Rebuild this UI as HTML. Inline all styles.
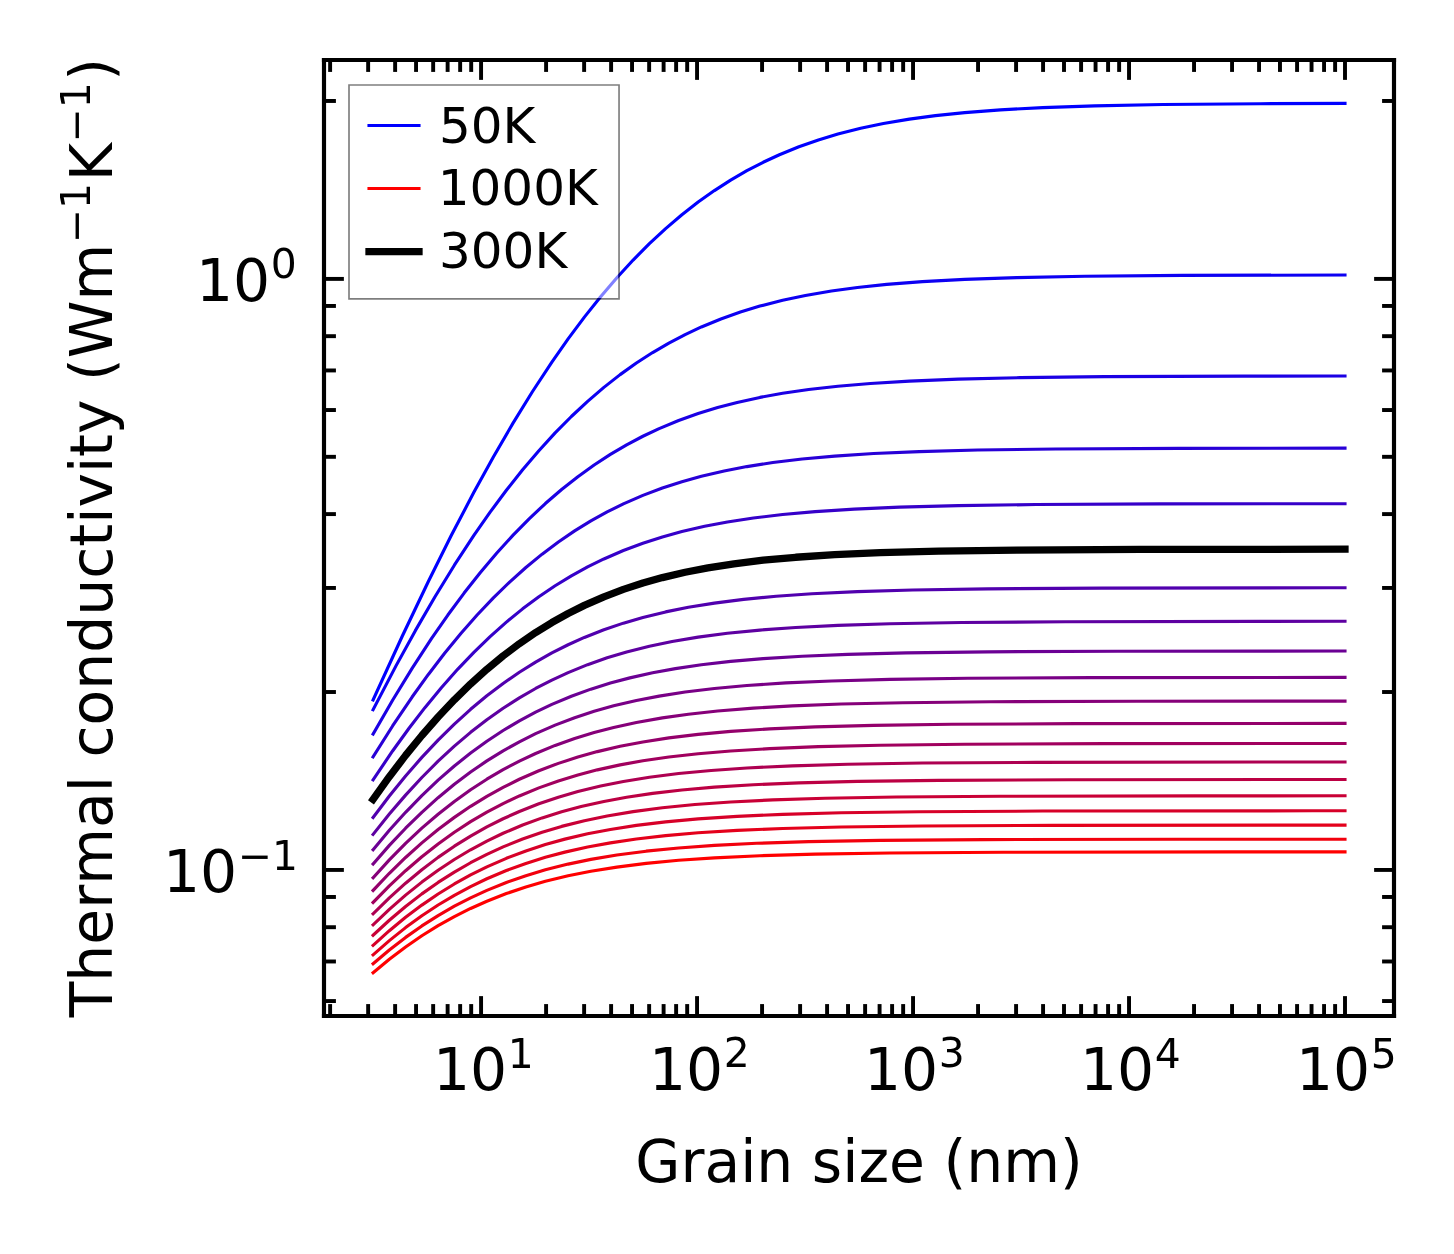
<!DOCTYPE html>
<html><head><meta charset="utf-8"><title>Thermal conductivity vs grain size</title>
<style>
html,body{margin:0;padding:0;background:#fff;}
body{width:1454px;height:1254px;overflow:hidden;}
svg{display:block;will-change:transform;}
svg text{font-family:"DejaVu Sans","Liberation Sans",sans-serif;}
</style></head><body>
<svg width="1454" height="1254" viewBox="0 0 348.96 300.96" version="1.1">
<defs>
<style type="text/css">*{stroke-linejoin: round; stroke-linecap: butt}</style>
</defs>
<g id="figure_1">
<g id="patch_1">
<path d="M 0 300.96 L 348.96 300.96 L 348.96 0 L 0 0 z
" style="fill: #ffffff"/>
</g>
<g id="axes_1">
<g id="patch_2">
<path d="M 77.76 243.84 L 334.56 243.84 L 334.56 14.4 L 77.76 14.4 z
" style="fill: #ffffff"/>
</g>
<g id="matplotlib.axis_1">
<g id="xtick_1">
<g id="line2d_1">
<defs>
<path id="maf25441c3c" d="M 0 0 L 0 -4.77 " style="stroke: #000000; stroke-width: 0.94"/>
</defs>
<g>
<use href="#maf25441c3c" x="115.459" y="243.84" style="stroke: #000000; stroke-width: 0.94"/>
</g>
</g>
<g id="line2d_2">
<defs>
<path id="m0d5572765b" d="M 0 0 L 0 4.77 " style="stroke: #000000; stroke-width: 0.94"/>
</defs>
<g>
<use href="#m0d5572765b" x="115.459" y="14.4" style="stroke: #000000; stroke-width: 0.94"/>
</g>
</g>
<g id="text_1" transform="translate(0.780 0.600)">
<g transform="translate(103.139 261.478)">
<text><tspan x="0 8.907" y="-0.498" font-size="14">10</tspan><tspan x="17.948" y="-5.858" font-size="9.8">1</tspan></text>
</g>
</g>
</g>
<g id="xtick_2">
<g id="line2d_3">
<g>
<use href="#maf25441c3c" x="167.294" y="243.84" style="stroke: #000000; stroke-width: 0.94"/>
</g>
</g>
<g id="line2d_4">
<g>
<use href="#m0d5572765b" x="167.294" y="14.4" style="stroke: #000000; stroke-width: 0.94"/>
</g>
</g>
<g id="text_2" transform="translate(0.780 0.420)">
<g transform="translate(154.974 261.478)">
<text><tspan x="0 8.907" y="-0.367" font-size="14">10</tspan><tspan x="17.948" y="-5.727" font-size="9.8">2</tspan></text>
</g>
</g>
</g>
<g id="xtick_3">
<g id="line2d_5">
<g>
<use href="#maf25441c3c" x="219.13" y="243.84" style="stroke: #000000; stroke-width: 0.94"/>
</g>
</g>
<g id="line2d_6">
<g>
<use href="#m0d5572765b" x="219.13" y="14.4" style="stroke: #000000; stroke-width: 0.94"/>
</g>
</g>
<g id="text_3" transform="translate(0.540 0.420)">
<g transform="translate(206.81 261.478)">
<text><tspan x="0 8.907" y="-0.367" font-size="14">10</tspan><tspan x="17.948" y="-5.727" font-size="9.8">3</tspan></text>
</g>
</g>
</g>
<g id="xtick_4">
<g id="line2d_7">
<g>
<use href="#maf25441c3c" x="270.965" y="243.84" style="stroke: #000000; stroke-width: 0.94"/>
</g>
</g>
<g id="line2d_8">
<g>
<use href="#m0d5572765b" x="270.965" y="14.4" style="stroke: #000000; stroke-width: 0.94"/>
</g>
</g>
<g id="text_4" transform="translate(0.540 0.600)">
<g transform="translate(258.645 261.478)">
<text><tspan x="0 8.907" y="-0.498" font-size="14">10</tspan><tspan x="17.948" y="-5.858" font-size="9.8">4</tspan></text>
</g>
</g>
</g>
<g id="xtick_5">
<g id="line2d_9">
<g>
<use href="#maf25441c3c" x="322.8" y="243.84" style="stroke: #000000; stroke-width: 0.94"/>
</g>
</g>
<g id="line2d_10">
<g>
<use href="#m0d5572765b" x="322.8" y="14.4" style="stroke: #000000; stroke-width: 0.94"/>
</g>
</g>
<g id="text_5" transform="translate(0.540 0.600)">
<g transform="translate(310.48 261.478)">
<text><tspan x="0 8.907" y="-0.498" font-size="14">10</tspan><tspan x="17.948" y="-5.858" font-size="9.8">5</tspan></text>
</g>
</g>
</g>
<g id="xtick_6">
<g id="line2d_11">
<defs>
<path id="m3b67e1d677" d="M 0 0 L 0 -2.86 " style="stroke: #000000; stroke-width: 0.94"/>
</defs>
<g>
<use href="#m3b67e1d677" x="79.228" y="243.84" style="stroke: #000000; stroke-width: 0.94"/>
</g>
</g>
<g id="line2d_12">
<defs>
<path id="m9bb82f5872" d="M 0 0 L 0 2.86 " style="stroke: #000000; stroke-width: 0.94"/>
</defs>
<g>
<use href="#m9bb82f5872" x="79.228" y="14.4" style="stroke: #000000; stroke-width: 0.94"/>
</g>
</g>
</g>
<g id="xtick_7">
<g id="line2d_13">
<g>
<use href="#m3b67e1d677" x="88.356" y="243.84" style="stroke: #000000; stroke-width: 0.94"/>
</g>
</g>
<g id="line2d_14">
<g>
<use href="#m9bb82f5872" x="88.356" y="14.4" style="stroke: #000000; stroke-width: 0.94"/>
</g>
</g>
</g>
<g id="xtick_8">
<g id="line2d_15">
<g>
<use href="#m3b67e1d677" x="94.832" y="243.84" style="stroke: #000000; stroke-width: 0.94"/>
</g>
</g>
<g id="line2d_16">
<g>
<use href="#m9bb82f5872" x="94.832" y="14.4" style="stroke: #000000; stroke-width: 0.94"/>
</g>
</g>
</g>
<g id="xtick_9">
<g id="line2d_17">
<g>
<use href="#m3b67e1d677" x="99.855" y="243.84" style="stroke: #000000; stroke-width: 0.94"/>
</g>
</g>
<g id="line2d_18">
<g>
<use href="#m9bb82f5872" x="99.855" y="14.4" style="stroke: #000000; stroke-width: 0.94"/>
</g>
</g>
</g>
<g id="xtick_10">
<g id="line2d_19">
<g>
<use href="#m3b67e1d677" x="103.96" y="243.84" style="stroke: #000000; stroke-width: 0.94"/>
</g>
</g>
<g id="line2d_20">
<g>
<use href="#m9bb82f5872" x="103.96" y="14.4" style="stroke: #000000; stroke-width: 0.94"/>
</g>
</g>
</g>
<g id="xtick_11">
<g id="line2d_21">
<g>
<use href="#m3b67e1d677" x="107.43" y="243.84" style="stroke: #000000; stroke-width: 0.94"/>
</g>
</g>
<g id="line2d_22">
<g>
<use href="#m9bb82f5872" x="107.43" y="14.4" style="stroke: #000000; stroke-width: 0.94"/>
</g>
</g>
</g>
<g id="xtick_12">
<g id="line2d_23">
<g>
<use href="#m3b67e1d677" x="110.436" y="243.84" style="stroke: #000000; stroke-width: 0.94"/>
</g>
</g>
<g id="line2d_24">
<g>
<use href="#m9bb82f5872" x="110.436" y="14.4" style="stroke: #000000; stroke-width: 0.94"/>
</g>
</g>
</g>
<g id="xtick_13">
<g id="line2d_25">
<g>
<use href="#m3b67e1d677" x="113.087" y="243.84" style="stroke: #000000; stroke-width: 0.94"/>
</g>
</g>
<g id="line2d_26">
<g>
<use href="#m9bb82f5872" x="113.087" y="14.4" style="stroke: #000000; stroke-width: 0.94"/>
</g>
</g>
</g>
<g id="xtick_14">
<g id="line2d_27">
<g>
<use href="#m3b67e1d677" x="131.063" y="243.84" style="stroke: #000000; stroke-width: 0.94"/>
</g>
</g>
<g id="line2d_28">
<g>
<use href="#m9bb82f5872" x="131.063" y="14.4" style="stroke: #000000; stroke-width: 0.94"/>
</g>
</g>
</g>
<g id="xtick_15">
<g id="line2d_29">
<g>
<use href="#m3b67e1d677" x="140.191" y="243.84" style="stroke: #000000; stroke-width: 0.94"/>
</g>
</g>
<g id="line2d_30">
<g>
<use href="#m9bb82f5872" x="140.191" y="14.4" style="stroke: #000000; stroke-width: 0.94"/>
</g>
</g>
</g>
<g id="xtick_16">
<g id="line2d_31">
<g>
<use href="#m3b67e1d677" x="146.667" y="243.84" style="stroke: #000000; stroke-width: 0.94"/>
</g>
</g>
<g id="line2d_32">
<g>
<use href="#m9bb82f5872" x="146.667" y="14.4" style="stroke: #000000; stroke-width: 0.94"/>
</g>
</g>
</g>
<g id="xtick_17">
<g id="line2d_33">
<g>
<use href="#m3b67e1d677" x="151.69" y="243.84" style="stroke: #000000; stroke-width: 0.94"/>
</g>
</g>
<g id="line2d_34">
<g>
<use href="#m9bb82f5872" x="151.69" y="14.4" style="stroke: #000000; stroke-width: 0.94"/>
</g>
</g>
</g>
<g id="xtick_18">
<g id="line2d_35">
<g>
<use href="#m3b67e1d677" x="155.795" y="243.84" style="stroke: #000000; stroke-width: 0.94"/>
</g>
</g>
<g id="line2d_36">
<g>
<use href="#m9bb82f5872" x="155.795" y="14.4" style="stroke: #000000; stroke-width: 0.94"/>
</g>
</g>
</g>
<g id="xtick_19">
<g id="line2d_37">
<g>
<use href="#m3b67e1d677" x="159.265" y="243.84" style="stroke: #000000; stroke-width: 0.94"/>
</g>
</g>
<g id="line2d_38">
<g>
<use href="#m9bb82f5872" x="159.265" y="14.4" style="stroke: #000000; stroke-width: 0.94"/>
</g>
</g>
</g>
<g id="xtick_20">
<g id="line2d_39">
<g>
<use href="#m3b67e1d677" x="162.271" y="243.84" style="stroke: #000000; stroke-width: 0.94"/>
</g>
</g>
<g id="line2d_40">
<g>
<use href="#m9bb82f5872" x="162.271" y="14.4" style="stroke: #000000; stroke-width: 0.94"/>
</g>
</g>
</g>
<g id="xtick_21">
<g id="line2d_41">
<g>
<use href="#m3b67e1d677" x="164.923" y="243.84" style="stroke: #000000; stroke-width: 0.94"/>
</g>
</g>
<g id="line2d_42">
<g>
<use href="#m9bb82f5872" x="164.923" y="14.4" style="stroke: #000000; stroke-width: 0.94"/>
</g>
</g>
</g>
<g id="xtick_22">
<g id="line2d_43">
<g>
<use href="#m3b67e1d677" x="182.898" y="243.84" style="stroke: #000000; stroke-width: 0.94"/>
</g>
</g>
<g id="line2d_44">
<g>
<use href="#m9bb82f5872" x="182.898" y="14.4" style="stroke: #000000; stroke-width: 0.94"/>
</g>
</g>
</g>
<g id="xtick_23">
<g id="line2d_45">
<g>
<use href="#m3b67e1d677" x="192.026" y="243.84" style="stroke: #000000; stroke-width: 0.94"/>
</g>
</g>
<g id="line2d_46">
<g>
<use href="#m9bb82f5872" x="192.026" y="14.4" style="stroke: #000000; stroke-width: 0.94"/>
</g>
</g>
</g>
<g id="xtick_24">
<g id="line2d_47">
<g>
<use href="#m3b67e1d677" x="198.502" y="243.84" style="stroke: #000000; stroke-width: 0.94"/>
</g>
</g>
<g id="line2d_48">
<g>
<use href="#m9bb82f5872" x="198.502" y="14.4" style="stroke: #000000; stroke-width: 0.94"/>
</g>
</g>
</g>
<g id="xtick_25">
<g id="line2d_49">
<g>
<use href="#m3b67e1d677" x="203.526" y="243.84" style="stroke: #000000; stroke-width: 0.94"/>
</g>
</g>
<g id="line2d_50">
<g>
<use href="#m9bb82f5872" x="203.526" y="14.4" style="stroke: #000000; stroke-width: 0.94"/>
</g>
</g>
</g>
<g id="xtick_26">
<g id="line2d_51">
<g>
<use href="#m3b67e1d677" x="207.63" y="243.84" style="stroke: #000000; stroke-width: 0.94"/>
</g>
</g>
<g id="line2d_52">
<g>
<use href="#m9bb82f5872" x="207.63" y="14.4" style="stroke: #000000; stroke-width: 0.94"/>
</g>
</g>
</g>
<g id="xtick_27">
<g id="line2d_53">
<g>
<use href="#m3b67e1d677" x="211.1" y="243.84" style="stroke: #000000; stroke-width: 0.94"/>
</g>
</g>
<g id="line2d_54">
<g>
<use href="#m9bb82f5872" x="211.1" y="14.4" style="stroke: #000000; stroke-width: 0.94"/>
</g>
</g>
</g>
<g id="xtick_28">
<g id="line2d_55">
<g>
<use href="#m3b67e1d677" x="214.106" y="243.84" style="stroke: #000000; stroke-width: 0.94"/>
</g>
</g>
<g id="line2d_56">
<g>
<use href="#m9bb82f5872" x="214.106" y="14.4" style="stroke: #000000; stroke-width: 0.94"/>
</g>
</g>
</g>
<g id="xtick_29">
<g id="line2d_57">
<g>
<use href="#m3b67e1d677" x="216.758" y="243.84" style="stroke: #000000; stroke-width: 0.94"/>
</g>
</g>
<g id="line2d_58">
<g>
<use href="#m9bb82f5872" x="216.758" y="14.4" style="stroke: #000000; stroke-width: 0.94"/>
</g>
</g>
</g>
<g id="xtick_30">
<g id="line2d_59">
<g>
<use href="#m3b67e1d677" x="234.734" y="243.84" style="stroke: #000000; stroke-width: 0.94"/>
</g>
</g>
<g id="line2d_60">
<g>
<use href="#m9bb82f5872" x="234.734" y="14.4" style="stroke: #000000; stroke-width: 0.94"/>
</g>
</g>
</g>
<g id="xtick_31">
<g id="line2d_61">
<g>
<use href="#m3b67e1d677" x="243.861" y="243.84" style="stroke: #000000; stroke-width: 0.94"/>
</g>
</g>
<g id="line2d_62">
<g>
<use href="#m9bb82f5872" x="243.861" y="14.4" style="stroke: #000000; stroke-width: 0.94"/>
</g>
</g>
</g>
<g id="xtick_32">
<g id="line2d_63">
<g>
<use href="#m3b67e1d677" x="250.338" y="243.84" style="stroke: #000000; stroke-width: 0.94"/>
</g>
</g>
<g id="line2d_64">
<g>
<use href="#m9bb82f5872" x="250.338" y="14.4" style="stroke: #000000; stroke-width: 0.94"/>
</g>
</g>
</g>
<g id="xtick_33">
<g id="line2d_65">
<g>
<use href="#m3b67e1d677" x="255.361" y="243.84" style="stroke: #000000; stroke-width: 0.94"/>
</g>
</g>
<g id="line2d_66">
<g>
<use href="#m9bb82f5872" x="255.361" y="14.4" style="stroke: #000000; stroke-width: 0.94"/>
</g>
</g>
</g>
<g id="xtick_34">
<g id="line2d_67">
<g>
<use href="#m3b67e1d677" x="259.465" y="243.84" style="stroke: #000000; stroke-width: 0.94"/>
</g>
</g>
<g id="line2d_68">
<g>
<use href="#m9bb82f5872" x="259.465" y="14.4" style="stroke: #000000; stroke-width: 0.94"/>
</g>
</g>
</g>
<g id="xtick_35">
<g id="line2d_69">
<g>
<use href="#m3b67e1d677" x="262.935" y="243.84" style="stroke: #000000; stroke-width: 0.94"/>
</g>
</g>
<g id="line2d_70">
<g>
<use href="#m9bb82f5872" x="262.935" y="14.4" style="stroke: #000000; stroke-width: 0.94"/>
</g>
</g>
</g>
<g id="xtick_36">
<g id="line2d_71">
<g>
<use href="#m3b67e1d677" x="265.941" y="243.84" style="stroke: #000000; stroke-width: 0.94"/>
</g>
</g>
<g id="line2d_72">
<g>
<use href="#m9bb82f5872" x="265.941" y="14.4" style="stroke: #000000; stroke-width: 0.94"/>
</g>
</g>
</g>
<g id="xtick_37">
<g id="line2d_73">
<g>
<use href="#m3b67e1d677" x="268.593" y="243.84" style="stroke: #000000; stroke-width: 0.94"/>
</g>
</g>
<g id="line2d_74">
<g>
<use href="#m9bb82f5872" x="268.593" y="14.4" style="stroke: #000000; stroke-width: 0.94"/>
</g>
</g>
</g>
<g id="xtick_38">
<g id="line2d_75">
<g>
<use href="#m3b67e1d677" x="286.569" y="243.84" style="stroke: #000000; stroke-width: 0.94"/>
</g>
</g>
<g id="line2d_76">
<g>
<use href="#m9bb82f5872" x="286.569" y="14.4" style="stroke: #000000; stroke-width: 0.94"/>
</g>
</g>
</g>
<g id="xtick_39">
<g id="line2d_77">
<g>
<use href="#m3b67e1d677" x="295.696" y="243.84" style="stroke: #000000; stroke-width: 0.94"/>
</g>
</g>
<g id="line2d_78">
<g>
<use href="#m9bb82f5872" x="295.696" y="14.4" style="stroke: #000000; stroke-width: 0.94"/>
</g>
</g>
</g>
<g id="xtick_40">
<g id="line2d_79">
<g>
<use href="#m3b67e1d677" x="302.173" y="243.84" style="stroke: #000000; stroke-width: 0.94"/>
</g>
</g>
<g id="line2d_80">
<g>
<use href="#m9bb82f5872" x="302.173" y="14.4" style="stroke: #000000; stroke-width: 0.94"/>
</g>
</g>
</g>
<g id="xtick_41">
<g id="line2d_81">
<g>
<use href="#m3b67e1d677" x="307.196" y="243.84" style="stroke: #000000; stroke-width: 0.94"/>
</g>
</g>
<g id="line2d_82">
<g>
<use href="#m9bb82f5872" x="307.196" y="14.4" style="stroke: #000000; stroke-width: 0.94"/>
</g>
</g>
</g>
<g id="xtick_42">
<g id="line2d_83">
<g>
<use href="#m3b67e1d677" x="311.3" y="243.84" style="stroke: #000000; stroke-width: 0.94"/>
</g>
</g>
<g id="line2d_84">
<g>
<use href="#m9bb82f5872" x="311.3" y="14.4" style="stroke: #000000; stroke-width: 0.94"/>
</g>
</g>
</g>
<g id="xtick_43">
<g id="line2d_85">
<g>
<use href="#m3b67e1d677" x="314.771" y="243.84" style="stroke: #000000; stroke-width: 0.94"/>
</g>
</g>
<g id="line2d_86">
<g>
<use href="#m9bb82f5872" x="314.771" y="14.4" style="stroke: #000000; stroke-width: 0.94"/>
</g>
</g>
</g>
<g id="xtick_44">
<g id="line2d_87">
<g>
<use href="#m3b67e1d677" x="317.777" y="243.84" style="stroke: #000000; stroke-width: 0.94"/>
</g>
</g>
<g id="line2d_88">
<g>
<use href="#m9bb82f5872" x="317.777" y="14.4" style="stroke: #000000; stroke-width: 0.94"/>
</g>
</g>
</g>
<g id="xtick_45">
<g id="line2d_89">
<g>
<use href="#m3b67e1d677" x="320.428" y="243.84" style="stroke: #000000; stroke-width: 0.94"/>
</g>
</g>
<g id="line2d_90">
<g>
<use href="#m9bb82f5872" x="320.428" y="14.4" style="stroke: #000000; stroke-width: 0.94"/>
</g>
</g>
</g>
<g id="text_6" transform="translate(0.000 0.540)">
<text style="font-size: 14px; font-family: 'DejaVu Sans', 'Liberation Sans', sans-serif; text-anchor: middle" x="206.16" y="283.027" transform="rotate(-0 206.16 283.027)">Grain size (nm)</text>
</g>
</g>
<g id="matplotlib.axis_2">
<g id="ytick_1">
<g id="line2d_91">
<defs>
<path id="m7ae708f7cb" d="M 0 0 L 4.77 0 " style="stroke: #000000; stroke-width: 0.94"/>
</defs>
<g>
<use href="#m7ae708f7cb" x="77.76" y="208.783" style="stroke: #000000; stroke-width: 0.94"/>
</g>
</g>
<g id="line2d_92">
<defs>
<path id="ma7361519e3" d="M 0 0 L -4.77 0 " style="stroke: #000000; stroke-width: 0.94"/>
</defs>
<g>
<use href="#ma7361519e3" x="334.56" y="208.783" style="stroke: #000000; stroke-width: 0.94"/>
</g>
</g>
<g id="text_7" transform="translate(1.260 0.480)">
<g transform="translate(37.86 214.102)">
<text><tspan x="0 8.907" y="-0.498" font-size="14">10</tspan><tspan x="17.948 26.16" y="-5.858" font-size="9.8">−1</tspan></text>
</g>
</g>
</g>
<g id="ytick_2">
<g id="line2d_93">
<g>
<use href="#m7ae708f7cb" x="77.76" y="66.936" style="stroke: #000000; stroke-width: 0.94"/>
</g>
</g>
<g id="line2d_94">
<g>
<use href="#ma7361519e3" x="334.56" y="66.936" style="stroke: #000000; stroke-width: 0.94"/>
</g>
</g>
<g id="text_8" transform="translate(0.900 0.240)">
<g transform="translate(46.12 72.255)">
<text><tspan x="0 8.907" y="-0.367" font-size="14">10</tspan><tspan x="17.948" y="-5.727" font-size="9.8">0</tspan></text>
</g>
</g>
</g>
<g id="ytick_3">
<g id="line2d_95">
<defs>
<path id="mc48ec808b9" d="M 0 0 L 2.86 0 " style="stroke: #000000; stroke-width: 0.94"/>
</defs>
<g>
<use href="#mc48ec808b9" x="77.76" y="240.252" style="stroke: #000000; stroke-width: 0.94"/>
</g>
</g>
<g id="line2d_96">
<defs>
<path id="ma619b0900b" d="M 0 0 L -2.86 0 " style="stroke: #000000; stroke-width: 0.94"/>
</defs>
<g>
<use href="#ma619b0900b" x="334.56" y="240.252" style="stroke: #000000; stroke-width: 0.94"/>
</g>
</g>
</g>
<g id="ytick_4">
<g id="line2d_97">
<g>
<use href="#mc48ec808b9" x="77.76" y="230.756" style="stroke: #000000; stroke-width: 0.94"/>
</g>
</g>
<g id="line2d_98">
<g>
<use href="#ma619b0900b" x="334.56" y="230.756" style="stroke: #000000; stroke-width: 0.94"/>
</g>
</g>
</g>
<g id="ytick_5">
<g id="line2d_99">
<g>
<use href="#mc48ec808b9" x="77.76" y="222.53" style="stroke: #000000; stroke-width: 0.94"/>
</g>
</g>
<g id="line2d_100">
<g>
<use href="#ma619b0900b" x="334.56" y="222.53" style="stroke: #000000; stroke-width: 0.94"/>
</g>
</g>
</g>
<g id="ytick_6">
<g id="line2d_101">
<g>
<use href="#mc48ec808b9" x="77.76" y="215.274" style="stroke: #000000; stroke-width: 0.94"/>
</g>
</g>
<g id="line2d_102">
<g>
<use href="#ma619b0900b" x="334.56" y="215.274" style="stroke: #000000; stroke-width: 0.94"/>
</g>
</g>
</g>
<g id="ytick_7">
<g id="line2d_103">
<g>
<use href="#mc48ec808b9" x="77.76" y="166.083" style="stroke: #000000; stroke-width: 0.94"/>
</g>
</g>
<g id="line2d_104">
<g>
<use href="#ma619b0900b" x="334.56" y="166.083" style="stroke: #000000; stroke-width: 0.94"/>
</g>
</g>
</g>
<g id="ytick_8">
<g id="line2d_105">
<g>
<use href="#mc48ec808b9" x="77.76" y="141.105" style="stroke: #000000; stroke-width: 0.94"/>
</g>
</g>
<g id="line2d_106">
<g>
<use href="#ma619b0900b" x="334.56" y="141.105" style="stroke: #000000; stroke-width: 0.94"/>
</g>
</g>
</g>
<g id="ytick_9">
<g id="line2d_107">
<g>
<use href="#mc48ec808b9" x="77.76" y="123.383" style="stroke: #000000; stroke-width: 0.94"/>
</g>
</g>
<g id="line2d_108">
<g>
<use href="#ma619b0900b" x="334.56" y="123.383" style="stroke: #000000; stroke-width: 0.94"/>
</g>
</g>
</g>
<g id="ytick_10">
<g id="line2d_109">
<g>
<use href="#mc48ec808b9" x="77.76" y="109.636" style="stroke: #000000; stroke-width: 0.94"/>
</g>
</g>
<g id="line2d_110">
<g>
<use href="#ma619b0900b" x="334.56" y="109.636" style="stroke: #000000; stroke-width: 0.94"/>
</g>
</g>
</g>
<g id="ytick_11">
<g id="line2d_111">
<g>
<use href="#mc48ec808b9" x="77.76" y="98.405" style="stroke: #000000; stroke-width: 0.94"/>
</g>
</g>
<g id="line2d_112">
<g>
<use href="#ma619b0900b" x="334.56" y="98.405" style="stroke: #000000; stroke-width: 0.94"/>
</g>
</g>
</g>
<g id="ytick_12">
<g id="line2d_113">
<g>
<use href="#mc48ec808b9" x="77.76" y="88.908" style="stroke: #000000; stroke-width: 0.94"/>
</g>
</g>
<g id="line2d_114">
<g>
<use href="#ma619b0900b" x="334.56" y="88.908" style="stroke: #000000; stroke-width: 0.94"/>
</g>
</g>
</g>
<g id="ytick_13">
<g id="line2d_115">
<g>
<use href="#mc48ec808b9" x="77.76" y="80.682" style="stroke: #000000; stroke-width: 0.94"/>
</g>
</g>
<g id="line2d_116">
<g>
<use href="#ma619b0900b" x="334.56" y="80.682" style="stroke: #000000; stroke-width: 0.94"/>
</g>
</g>
</g>
<g id="ytick_14">
<g id="line2d_117">
<g>
<use href="#mc48ec808b9" x="77.76" y="73.427" style="stroke: #000000; stroke-width: 0.94"/>
</g>
</g>
<g id="line2d_118">
<g>
<use href="#ma619b0900b" x="334.56" y="73.427" style="stroke: #000000; stroke-width: 0.94"/>
</g>
</g>
</g>
<g id="ytick_15">
<g id="line2d_119">
<g>
<use href="#mc48ec808b9" x="77.76" y="24.236" style="stroke: #000000; stroke-width: 0.94"/>
</g>
</g>
<g id="line2d_120">
<g>
<use href="#ma619b0900b" x="334.56" y="24.236" style="stroke: #000000; stroke-width: 0.94"/>
</g>
</g>
</g>
<g id="text_9" transform="translate(0.420 -0.120)">
<g transform="translate(26.92 244.27) rotate(-90)">
<text><tspan x="0 8.552 17.425 26.038 31.794 45.432 54.011 57.9 62.351 70.048 78.613 87.486 96.373 105.246 112.943 118.433 122.322 130.607 134.497 139.986 148.271 152.722 158.184 172.026" y="-0.498" font-size="14">Thermal conductivity (Wm</tspan><tspan x="185.798 194.009" y="-5.858" font-size="9.8">−1</tspan><tspan x="200.627" y="-0.498" font-size="14">K</tspan><tspan x="209.942 218.153" y="-5.858" font-size="9.8">−1</tspan><tspan x="224.771" y="-0.498" font-size="14">)</tspan></text>
</g>
</g>
</g>
<g id="line2d_121">
<path d="M 89.542 167.982 L 96.563 152.637 L 102.804 139.551 L 108.265 128.597 L 113.726 118.161 L 118.406 109.665 L 123.087 101.61 L 127.768 94.018 L 132.449 86.9 L 136.349 81.337 L 140.25 76.11 L 144.151 71.216 L 148.051 66.652 L 151.952 62.41 L 155.853 58.484 L 159.753 54.864 L 163.654 51.54 L 167.554 48.501 L 171.455 45.736 L 175.356 43.232 L 179.256 40.974 L 183.157 38.948 L 187.058 37.139 L 191.738 35.233 L 196.419 33.589 L 201.1 32.178 L 206.561 30.794 L 212.022 29.651 L 218.263 28.595 L 224.504 27.757 L 231.525 27.025 L 240.106 26.364 L 250.248 25.823 L 262.73 25.399 L 279.113 25.087 L 302.517 24.886 L 322.8 24.816 L 322.8 24.816 " clip-path="url(#pe7b83af698)" style="fill: none; stroke: #0000ff; stroke-width: 0.75; stroke-linecap: square"/>
</g>
<g id="line2d_122">
<path d="M 89.542 170.334 L 95.002 159.872 L 99.683 151.351 L 104.364 143.271 L 109.045 135.652 L 113.726 128.507 L 117.626 122.921 L 121.527 117.67 L 125.428 112.754 L 129.328 108.167 L 133.229 103.903 L 137.129 99.956 L 141.03 96.315 L 144.931 92.971 L 148.831 89.914 L 152.732 87.13 L 156.633 84.608 L 160.533 82.334 L 164.434 80.292 L 168.335 78.469 L 173.015 76.547 L 177.696 74.889 L 182.377 73.466 L 187.838 72.068 L 193.299 70.915 L 199.54 69.848 L 205.781 69.002 L 212.802 68.262 L 221.383 67.594 L 231.525 67.047 L 244.007 66.619 L 260.39 66.303 L 283.794 66.1 L 322.8 66 L 322.8 66 " clip-path="url(#pe7b83af698)" style="fill: none; stroke: #0d00f2; stroke-width: 0.75; stroke-linecap: square"/>
</g>
<g id="line2d_123">
<path d="M 89.542 176.164 L 94.222 168.053 L 98.903 160.402 L 103.584 153.225 L 107.485 147.611 L 111.385 142.334 L 115.286 137.39 L 119.186 132.776 L 123.087 128.487 L 126.988 124.514 L 130.888 120.849 L 134.789 117.481 L 138.69 114.4 L 142.59 111.595 L 146.491 109.052 L 150.392 106.758 L 154.292 104.699 L 158.193 102.858 L 162.874 100.917 L 167.554 99.242 L 172.235 97.804 L 176.916 96.577 L 182.377 95.377 L 187.838 94.392 L 194.079 93.484 L 201.1 92.689 L 208.901 92.026 L 218.263 91.457 L 229.965 90.989 L 244.787 90.64 L 265.07 90.404 L 298.616 90.269 L 322.8 90.24 L 322.8 90.24 " clip-path="url(#pe7b83af698)" style="fill: none; stroke: #1b00e4; stroke-width: 0.75; stroke-linecap: square"/>
</g>
<g id="line2d_124">
<path d="M 89.542 181.661 L 94.222 174.234 L 98.903 167.285 L 102.804 161.863 L 106.704 156.777 L 110.605 152.022 L 114.506 147.595 L 118.406 143.487 L 122.307 139.691 L 126.208 136.197 L 130.108 132.995 L 134.009 130.073 L 137.91 127.419 L 141.81 125.02 L 145.711 122.862 L 149.611 120.93 L 154.292 118.887 L 158.973 117.12 L 163.654 115.6 L 168.335 114.301 L 173.795 113.028 L 179.256 111.981 L 185.497 111.015 L 192.519 110.168 L 200.32 109.46 L 209.681 108.852 L 220.603 108.377 L 234.645 108.007 L 253.369 107.752 L 283.013 107.596 L 322.8 107.544 L 322.8 107.544 " clip-path="url(#pe7b83af698)" style="fill: none; stroke: #2800d7; stroke-width: 0.75; stroke-linecap: square"/>
</g>
<g id="line2d_125">
<path d="M 89.542 187.152 L 94.222 180.232 L 98.123 174.834 L 102.024 169.772 L 105.924 165.041 L 109.825 160.636 L 113.726 156.551 L 117.626 152.777 L 121.527 149.305 L 125.428 146.123 L 129.328 143.22 L 133.229 140.585 L 137.129 138.204 L 141.03 136.063 L 144.931 134.146 L 149.611 132.12 L 154.292 130.369 L 158.973 128.863 L 163.654 127.576 L 169.115 126.316 L 174.576 125.279 L 180.817 124.323 L 187.838 123.485 L 195.639 122.784 L 205.001 122.183 L 215.922 121.714 L 229.965 121.348 L 248.688 121.095 L 278.333 120.942 L 322.8 120.888 L 322.8 120.888 " clip-path="url(#pe7b83af698)" style="fill: none; stroke: #3600c9; stroke-width: 0.75; stroke-linecap: square"/>
</g>
<g id="line2d_126">
<path d="M 89.542 191.841 L 93.442 186.402 L 97.343 181.298 L 101.244 176.527 L 105.144 172.083 L 109.045 167.959 L 112.945 164.147 L 116.846 160.638 L 120.747 157.421 L 124.647 154.485 L 128.548 151.817 L 132.449 149.406 L 136.349 147.235 L 140.25 145.292 L 144.931 143.237 L 149.611 141.458 L 154.292 139.928 L 158.973 138.62 L 164.434 137.339 L 169.895 136.284 L 176.136 135.311 L 183.157 134.457 L 190.958 133.743 L 200.32 133.131 L 211.242 132.652 L 225.284 132.279 L 244.007 132.021 L 273.652 131.865 L 322.8 131.808 L 322.8 131.808 " clip-path="url(#pe7b83af698)" style="fill: none; stroke: #4300bc; stroke-width: 0.75; stroke-linecap: square"/>
</g>
<g id="line2d_127">
<path d="M 89.542 196.191 L 93.442 191.054 L 97.343 186.25 L 101.244 181.774 L 105.144 177.618 L 109.045 173.776 L 112.945 170.237 L 116.846 166.992 L 120.747 164.028 L 124.647 161.335 L 128.548 158.899 L 132.449 156.705 L 136.349 154.74 L 140.25 152.987 L 144.931 151.142 L 149.611 149.553 L 154.292 148.192 L 159.753 146.857 L 165.214 145.757 L 171.455 144.741 L 178.476 143.849 L 186.278 143.102 L 194.859 142.505 L 205.781 141.988 L 219.043 141.601 L 236.986 141.321 L 264.29 141.148 L 318.899 141.073 L 322.8 141.072 L 322.8 141.072 " clip-path="url(#pe7b83af698)" style="fill: none; stroke: #5100ae; stroke-width: 0.75; stroke-linecap: square"/>
</g>
<g id="line2d_128">
<path d="M 89.542 200.261 L 93.442 195.38 L 97.343 190.827 L 101.244 186.598 L 105.144 182.684 L 109.045 179.075 L 112.945 175.762 L 116.846 172.734 L 120.747 169.979 L 124.647 167.484 L 128.548 165.236 L 132.449 163.218 L 136.349 161.418 L 141.03 159.52 L 145.711 157.883 L 150.392 156.48 L 155.853 155.103 L 161.313 153.966 L 167.554 152.915 L 174.576 151.992 L 182.377 151.218 L 190.958 150.6 L 201.1 150.095 L 213.582 149.699 L 230.745 149.399 L 255.709 149.21 L 302.517 149.121 L 322.8 149.112 L 322.8 149.112 " clip-path="url(#pe7b83af698)" style="fill: none; stroke: #5e00a1; stroke-width: 0.75; stroke-linecap: square"/>
</g>
<g id="line2d_129">
<path d="M 89.542 203.923 L 93.442 199.274 L 97.343 194.949 L 101.244 190.942 L 105.144 187.244 L 109.045 183.844 L 112.945 180.733 L 116.846 177.898 L 120.747 175.327 L 124.647 173.007 L 128.548 170.923 L 132.449 169.059 L 137.129 167.093 L 141.81 165.394 L 146.491 163.936 L 151.172 162.691 L 156.633 161.473 L 162.094 160.472 L 168.335 159.55 L 175.356 158.742 L 183.157 158.068 L 192.519 157.489 L 203.44 157.038 L 217.483 156.686 L 236.986 156.437 L 268.191 156.29 L 322.8 156.24 L 322.8 156.24 " clip-path="url(#pe7b83af698)" style="fill: none; stroke: #6b0094; stroke-width: 0.75; stroke-linecap: square"/>
</g>
<g id="line2d_130">
<path d="M 89.542 207.344 L 93.442 202.896 L 97.343 198.769 L 101.244 194.954 L 105.144 191.442 L 109.045 188.222 L 112.945 185.283 L 116.846 182.614 L 120.747 180.199 L 124.647 178.027 L 128.548 176.081 L 133.229 174.024 L 137.91 172.243 L 142.59 170.711 L 147.271 169.401 L 152.732 168.118 L 158.193 167.062 L 164.434 166.087 L 171.455 165.232 L 179.256 164.518 L 188.618 163.904 L 199.54 163.425 L 213.582 163.051 L 232.305 162.793 L 261.95 162.636 L 322.8 162.576 L 322.8 162.576 " clip-path="url(#pe7b83af698)" style="fill: none; stroke: #790086; stroke-width: 0.75; stroke-linecap: square"/>
</g>
<g id="line2d_131">
<path d="M 89.542 210.66 L 93.442 206.381 L 97.343 202.419 L 101.244 198.764 L 105.144 195.407 L 109.045 192.336 L 112.945 189.539 L 116.846 187.005 L 120.747 184.72 L 124.647 182.668 L 128.548 180.835 L 133.229 178.902 L 137.91 177.233 L 142.59 175.802 L 147.271 174.58 L 152.732 173.386 L 158.973 172.281 L 165.214 171.404 L 172.235 170.637 L 180.817 169.942 L 190.178 169.411 L 201.88 168.973 L 216.703 168.648 L 237.766 168.422 L 272.872 168.297 L 322.8 168.264 L 322.8 168.264 " clip-path="url(#pe7b83af698)" style="fill: none; stroke: #860079; stroke-width: 0.75; stroke-linecap: square"/>
</g>
<g id="line2d_132">
<path d="M 89.542 213.701 L 93.442 209.591 L 97.343 205.793 L 101.244 202.298 L 105.144 199.094 L 109.045 196.17 L 112.945 193.515 L 116.846 191.114 L 120.747 188.955 L 124.647 187.021 L 129.328 184.977 L 134.009 183.208 L 138.69 181.687 L 143.37 180.387 L 148.831 179.113 L 154.292 178.065 L 160.533 177.098 L 167.554 176.25 L 175.356 175.542 L 184.717 174.933 L 195.639 174.458 L 209.681 174.088 L 228.404 173.832 L 258.049 173.676 L 322.8 173.616 L 322.8 173.616 " clip-path="url(#pe7b83af698)" style="fill: none; stroke: #94006b; stroke-width: 0.75; stroke-linecap: square"/>
</g>
<g id="line2d_133">
<path d="M 89.542 216.592 L 93.442 212.627 L 97.343 208.969 L 101.244 205.609 L 105.144 202.536 L 109.045 199.738 L 112.945 197.202 L 116.846 194.914 L 120.747 192.86 L 124.647 191.026 L 129.328 189.091 L 134.009 187.42 L 138.69 185.987 L 143.37 184.765 L 148.831 183.569 L 154.292 182.588 L 160.533 181.684 L 167.554 180.892 L 175.356 180.231 L 184.717 179.664 L 196.419 179.198 L 211.242 178.851 L 231.525 178.616 L 265.07 178.481 L 322.8 178.44 L 322.8 178.44 " clip-path="url(#pe7b83af698)" style="fill: none; stroke: #a1005e; stroke-width: 0.75; stroke-linecap: square"/>
</g>
<g id="line2d_134">
<path d="M 89.542 219.33 L 93.442 215.495 L 97.343 211.964 L 101.244 208.725 L 105.144 205.769 L 109.045 203.082 L 112.945 200.652 L 116.846 198.465 L 120.747 196.505 L 124.647 194.757 L 129.328 192.918 L 134.009 191.334 L 138.69 189.977 L 144.151 188.647 L 149.611 187.551 L 155.853 186.538 L 162.874 185.649 L 170.675 184.905 L 179.256 184.311 L 190.178 183.796 L 203.44 183.411 L 221.383 183.132 L 248.688 182.959 L 303.297 182.885 L 322.8 182.88 L 322.8 182.88 " clip-path="url(#pe7b83af698)" style="fill: none; stroke: #ae0051; stroke-width: 0.75; stroke-linecap: square"/>
</g>
<g id="line2d_135">
<path d="M 89.542 221.953 L 93.442 218.242 L 97.343 214.829 L 101.244 211.706 L 105.144 208.859 L 109.045 206.277 L 112.945 203.946 L 116.846 201.852 L 120.747 199.979 L 125.428 198.002 L 130.108 196.294 L 134.789 194.827 L 139.47 193.575 L 144.931 192.35 L 150.392 191.343 L 156.633 190.415 L 163.654 189.602 L 171.455 188.923 L 180.817 188.34 L 191.738 187.886 L 205.781 187.532 L 225.284 187.28 L 256.489 187.133 L 322.8 187.08 L 322.8 187.08 " clip-path="url(#pe7b83af698)" style="fill: none; stroke: #bc0043; stroke-width: 0.75; stroke-linecap: square"/>
</g>
<g id="line2d_136">
<path d="M 89.542 224.456 L 93.442 220.856 L 97.343 217.552 L 101.244 214.533 L 105.144 211.785 L 109.045 209.298 L 112.945 207.056 L 116.846 205.046 L 120.747 203.251 L 125.428 201.36 L 130.108 199.729 L 134.789 198.332 L 140.25 196.96 L 145.711 195.828 L 151.952 194.781 L 158.973 193.862 L 166.774 193.092 L 175.356 192.476 L 185.497 191.973 L 197.979 191.58 L 215.142 191.28 L 240.106 191.093 L 286.914 191.004 L 322.8 190.992 L 322.8 190.992 " clip-path="url(#pe7b83af698)" style="fill: none; stroke: #c90036; stroke-width: 0.75; stroke-linecap: square"/>
</g>
<g id="line2d_137">
<path d="M 89.542 226.87 L 93.442 223.366 L 97.343 220.154 L 101.244 217.223 L 105.144 214.561 L 109.045 212.154 L 112.945 209.988 L 116.846 208.048 L 121.527 205.997 L 126.208 204.223 L 130.888 202.697 L 135.569 201.391 L 141.03 200.113 L 146.491 199.061 L 152.732 198.09 L 159.753 197.239 L 167.554 196.527 L 176.916 195.916 L 187.838 195.439 L 201.88 195.067 L 220.603 194.81 L 250.248 194.654 L 314.999 194.593 L 322.8 194.592 L 322.8 194.592 " clip-path="url(#pe7b83af698)" style="fill: none; stroke: #d70028; stroke-width: 0.75; stroke-linecap: square"/>
</g>
<g id="line2d_138">
<path d="M 89.542 229.154 L 93.442 225.745 L 97.343 222.624 L 101.244 219.779 L 105.144 217.2 L 109.045 214.871 L 112.945 212.778 L 116.846 210.908 L 121.527 208.933 L 126.208 207.227 L 130.888 205.762 L 135.569 204.511 L 141.03 203.287 L 146.491 202.282 L 152.732 201.355 L 159.753 200.543 L 167.554 199.865 L 176.916 199.283 L 187.838 198.829 L 201.88 198.475 L 221.383 198.225 L 252.588 198.077 L 322.8 198.024 L 322.8 198.024 " clip-path="url(#pe7b83af698)" style="fill: none; stroke: #e4001b; stroke-width: 0.75; stroke-linecap: square"/>
</g>
<g id="line2d_139">
<path d="M 89.542 231.303 L 93.442 227.996 L 97.343 224.974 L 101.244 222.224 L 105.144 219.735 L 109.045 217.491 L 112.945 215.478 L 116.846 213.682 L 121.527 211.789 L 126.208 210.157 L 130.888 208.758 L 136.349 207.384 L 141.81 206.251 L 148.051 205.203 L 155.072 204.282 L 162.874 203.511 L 171.455 202.895 L 181.597 202.391 L 194.079 201.997 L 211.242 201.697 L 236.206 201.509 L 283.013 201.42 L 322.8 201.408 L 322.8 201.408 " clip-path="url(#pe7b83af698)" style="fill: none; stroke: #f2000d; stroke-width: 0.75; stroke-linecap: square"/>
</g>
<g id="line2d_140">
<path d="M 89.542 233.446 L 93.442 230.216 L 97.343 227.267 L 101.244 224.588 L 105.144 222.165 L 109.045 219.984 L 112.945 218.03 L 116.846 216.288 L 121.527 214.455 L 126.208 212.877 L 130.888 211.525 L 136.349 210.2 L 141.81 209.108 L 148.051 208.1 L 155.072 207.214 L 162.874 206.474 L 171.455 205.882 L 182.377 205.369 L 195.639 204.985 L 213.582 204.708 L 240.887 204.536 L 295.496 204.462 L 322.8 204.456 L 322.8 204.456 " clip-path="url(#pe7b83af698)" style="fill: none; stroke: #ff0000; stroke-width: 0.75; stroke-linecap: square"/>
</g>
<g id="line2d_141">
<path d="M 89.542 191.841 L 93.442 186.402 L 97.343 181.298 L 101.244 176.527 L 105.144 172.083 L 109.045 167.959 L 112.945 164.147 L 116.846 160.638 L 120.747 157.421 L 124.647 154.485 L 128.548 151.817 L 132.449 149.406 L 136.349 147.235 L 140.25 145.292 L 144.931 143.237 L 149.611 141.458 L 154.292 139.928 L 158.973 138.62 L 164.434 137.339 L 169.895 136.284 L 176.136 135.311 L 183.157 134.457 L 190.958 133.743 L 200.32 133.131 L 211.242 132.652 L 225.284 132.279 L 244.007 132.021 L 273.652 131.865 L 322.8 131.808 L 322.8 131.808 " clip-path="url(#pe7b83af698)" style="fill: none; stroke: #000000; stroke-width: 1.75; stroke-linecap: square"/>
</g>
<g id="patch_3">
<path d="M 77.76 243.84 L 77.76 14.4 " style="fill: none; stroke: #000000; stroke-linejoin: miter; stroke-linecap: square"/>
</g>
<g id="patch_4">
<path d="M 334.56 243.84 L 334.56 14.4 " style="fill: none; stroke: #000000; stroke-linejoin: miter; stroke-linecap: square"/>
</g>
<g id="patch_5">
<path d="M 77.76 243.84 L 334.56 243.84 " style="fill: none; stroke: #000000; stroke-linejoin: miter; stroke-linecap: square"/>
</g>
<g id="patch_6">
<path d="M 77.76 14.4 L 334.56 14.4 " style="fill: none; stroke: #000000; stroke-linejoin: miter; stroke-linecap: square"/>
</g>
<g id="legend_1">
<g id="patch_7">
<path d="M 83.76 71.712 L 148.569 71.712 L 148.569 20.4 L 83.76 20.4 z
" style="fill: #ffffff; opacity: 0.5; stroke: #000000; stroke-width: 0.4; stroke-linejoin: miter"/>
</g>
<g id="line2d_142">
<path d="M 88.56 30.118 L 94.56 30.118 L 100.56 30.118 " style="fill: none; stroke: #0000ff; stroke-width: 0.75; stroke-linecap: square"/>
</g>
<g id="text_10" transform="translate(0.000 -0.060)">
<text style="font-size: 12px; font-family: 'DejaVu Sans', 'Liberation Sans', sans-serif; text-anchor: start" x="105.36" y="34.318" transform="rotate(-0 105.36 34.318)">50K</text>
</g>
<g id="line2d_143">
<path d="M 88.56 45.248 L 94.56 45.248 L 100.56 45.248 " style="fill: none; stroke: #ff0000; stroke-width: 0.75; stroke-linecap: square"/>
</g>
<g id="text_11" transform="translate(-0.300 -0.360)">
<text style="font-size: 12px; font-family: 'DejaVu Sans', 'Liberation Sans', sans-serif; text-anchor: start" x="105.36" y="49.448" transform="rotate(-0 105.36 49.448)">1000K</text>
</g>
<g id="line2d_144">
<path d="M 88.56 60.378 L 94.56 60.378 L 100.56 60.378 " style="fill: none; stroke: #000000; stroke-width: 1.75; stroke-linecap: square"/>
</g>
<g id="text_12" transform="translate(0.000 -0.360)">
<text style="font-size: 12px; font-family: 'DejaVu Sans', 'Liberation Sans', sans-serif; text-anchor: start" x="105.36" y="64.578" transform="rotate(-0 105.36 64.578)">300K</text>
</g>
</g>
</g>
</g>
<defs>
<clipPath id="pe7b83af698">
<rect x="77.76" y="14.4" width="256.8" height="229.44"/>
</clipPath>
</defs>
</svg>

</body></html>
